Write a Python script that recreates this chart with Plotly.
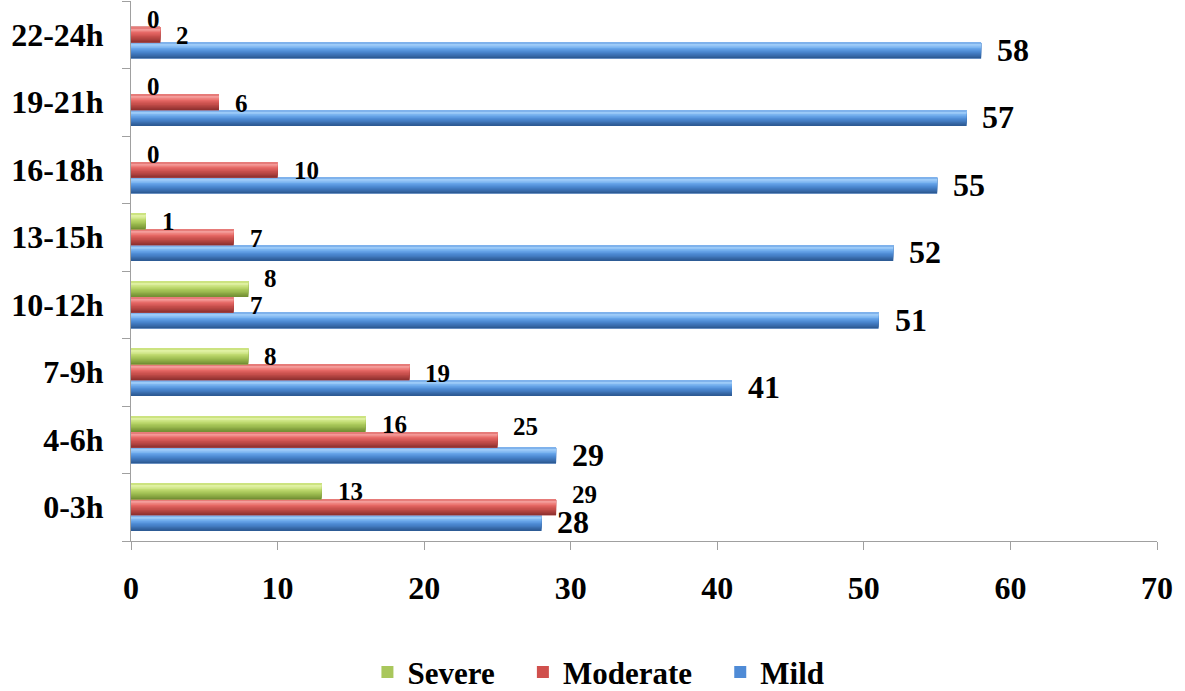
import plotly.graph_objects as go

categories = ["0-3h", "4-6h", "7-9h", "10-12h", "13-15h", "16-18h", "19-21h", "22-24h"]
mild = [28, 29, 41, 51, 52, 55, 57, 58]
moderate = [29, 25, 19, 7, 7, 10, 6, 2]
severe = [13, 16, 8, 8, 1, 0, 0, 0]
x_ticks = [0, 10, 20, 30, 40, 50, 60, 70]

FONT = "Liberation Serif"
BAR_W = 0.233
N_BANDS = 12


def hex2rgb(h):
    h = h.lstrip("#")
    return [int(h[i:i + 2], 16) for i in (0, 2, 4)]


def grad(stops, t):
    for (t0, c0), (t1, c1) in zip(stops[:-1], stops[1:]):
        if t0 <= t <= t1:
            f = 0 if t1 == t0 else (t - t0) / (t1 - t0)
            a, b = hex2rgb(c0), hex2rgb(c1)
            return "rgb(%d,%d,%d)" % tuple(round(a[i] + (b[i] - a[i]) * f) for i in range(3))
    return stops[-1][1]


# gradient stops from top (0) to bottom (1) of each bar
blue_stops = [(0, "#6FA6E6"), (0.15, "#A8D3FB"), (0.35, "#6AA8EC"), (0.6, "#4A86CF"), (1, "#2A568E")]
red_stops = [(0, "#E06A68"), (0.15, "#F7A7A5"), (0.35, "#E86A67"), (0.6, "#C9504D"), (1, "#8A2F2D")]
green_stops = [(0, "#C2DC6E"), (0.15, "#E6F5AE"), (0.35, "#C4DE75"), (0.6, "#A3C255"), (1, "#6E8B30")]


# simple collision-avoidance rule for the value labels (like the original chart)
def label_shift(name, i):
    if name == "Mild":
        return 1
    if name == "Moderate":
        return 13 if abs(moderate[i] - mild[i]) <= 4.5 else -1
    return 11 if abs(severe[i] - moderate[i]) < 1.5 else 0


# name, legend label, values, legend colour, stops, offset (bottom edge), label size
series = [
    ("Mild", "Mild", mild, "#4F8BD6", blue_stops, -0.35, 32),
    ("Moderate", "Moderate\u00a0\u00a0\u00a0", moderate, "#D0504D", red_stops, -0.117, 25),
    ("Severe", "Severe\u00a0\u00a0\u00a0", severe, "#A9C75C", green_stops, 0.116, 25),
]

fig = go.Figure()
annotations = []
for name, label, vals, col, stops, off, fs in series:
    # base bar (legend entry)
    fig.add_trace(go.Bar(
        y=categories, x=vals, name=label, orientation="h",
        width=BAR_W, offset=off, legendgroup=name,
        marker=dict(color=col, line=dict(width=0)),
        hovertemplate=name + ": %{x}<extra></extra>",
    ))
    # nested bands, each spanning from the bar top down, to form a smooth gradient
    for k in range(N_BANDS - 1, -1, -1):
        h = BAR_W * (k + 1) / N_BANDS
        t = (k + 0.5) / N_BANDS
        fig.add_trace(go.Bar(
            y=categories, x=vals, orientation="h", showlegend=False, legendgroup=name,
            width=h, offset=off + BAR_W - h,
            marker=dict(color=grad(stops, t), line=dict(width=0)), hoverinfo="skip",
        ))
    # value labels
    for i, v in enumerate(vals):
        annotations.append(dict(
            x=v, y=i + off + BAR_W / 2, xref="x", yref="y", text=str(v),
            showarrow=False, xanchor="left", yanchor="middle", xshift=14,
            yshift=label_shift(name, i),
            font=dict(family=FONT, size=fs, color="black", weight="bold"),
        ))

fig.update_layout(
    width=1185, height=691,
    margin=dict(l=131, r=28, t=1, b=150),
    paper_bgcolor="white", plot_bgcolor="white",
    barmode="overlay",
    font=dict(family=FONT, color="black"),
    showlegend=True,
    annotations=annotations,
    legend=dict(orientation="h", traceorder="reversed", xref="container", x=0.505,
                xanchor="center", yref="container", y=0.027, yanchor="middle",
                font=dict(family=FONT, size=31, color="black", weight="bold"),
                itemwidth=30, tracegroupgap=0),
    xaxis=dict(range=[0, 70], tickvals=x_ticks, ticks="outside", ticklen=8,
               tickcolor="#A0A0A0", showline=True, linecolor="#A0A0A0", linewidth=1,
               showgrid=False, zeroline=False, ticklabelstandoff=11, automargin=False,
               tickfont=dict(family=FONT, size=32, color="black", weight="bold")),
    yaxis=dict(categoryorder="array", categoryarray=categories, ticks="outside",
               tickson="boundaries", ticklen=8, tickcolor="#A0A0A0", showline=True,
               linecolor="#A0A0A0", linewidth=1, showgrid=False, zeroline=False,
               range=[-0.5, 7.5], ticklabelstandoff=20, automargin=False,
               tickfont=dict(family=FONT, size=32, color="black", weight="bold")),
)

fig.write_html("out.html", config={"displayModeBar": False},
               post_script="document.body.style.margin='0';")
